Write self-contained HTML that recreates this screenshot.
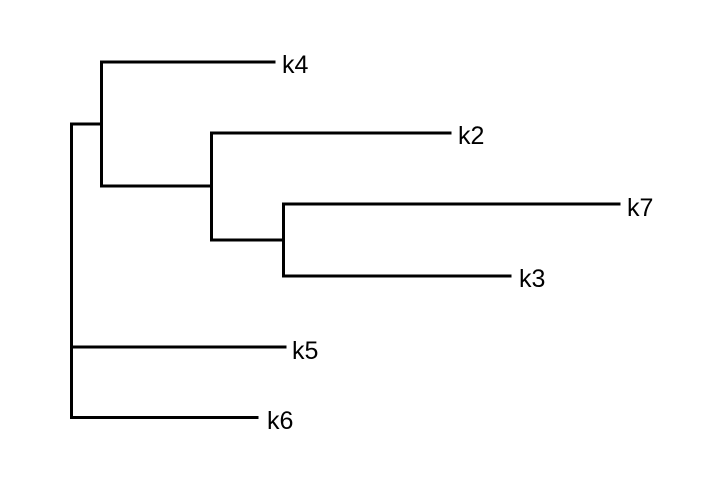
<!DOCTYPE html>
<html><head><style>body{margin:0;background:#fff}svg{display:block}</style></head>
<body>
<svg width="720" height="480" xmlns="http://www.w3.org/2000/svg">
<g stroke="#000" stroke-width="3" fill="none" stroke-linecap="square">
<path d="M71.5 124V417.5M71.5 124H101.5M101.5 62V186M101.5 62H274M101.5 186H211.5M211.5 133V240M211.5 133H450M211.5 240H283.5M283.5 204V276M283.5 204H619M283.5 276H510M71.5 347H285M71.5 417.5H257"/>
</g>
<g font-family="Liberation Sans, sans-serif" font-size="25" fill="#000">
<text x="282" y="73">k4</text>
<text x="458" y="144">k2</text>
<text x="627" y="216">k7</text>
<text x="519" y="287">k3</text>
<text x="292" y="359">k5</text>
<text x="267" y="429">k6</text>
</g>
</svg>
</body></html>
